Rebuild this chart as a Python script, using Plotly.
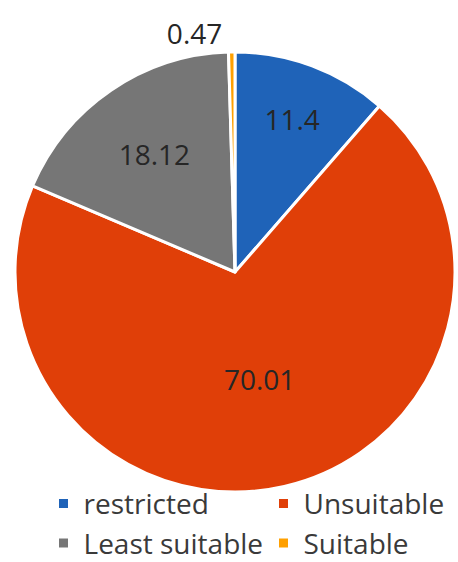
import plotly.graph_objects as go

labels = ["restricted", "Unsuitable", "Least suitable", "Suitable"]
values = [11.4, 70.01, 18.12, 0.47]
colors = ["#1F63B8", "#E03F08", "#767676", "#FFA000"]
text_positions = ["inside", "inside", "inside", "outside"]

W, H = 458, 562
cx, cy, r = 235, 272, 220

fig = go.Figure(
    go.Pie(
        labels=labels,
        values=values,
        sort=False,
        direction="clockwise",
        rotation=0,
        marker=dict(colors=colors, line=dict(color="white", width=3)),
        texttemplate="%{value}",
        textposition=text_positions,
        insidetextorientation="horizontal",
        textfont=dict(family="Open Sans", size=28, color="#262626"),
        outsidetextfont=dict(family="Open Sans", size=28, color="#262626"),
        domain=dict(
            x=[(cx - r) / W, (cx + r) / W],
            y=[(H - cy - r) / H, (H - cy + r) / H],
        ),
        hoverinfo="label+value",
    )
)

fig.update_layout(
    width=W,
    height=H,
    margin=dict(l=0, r=0, t=0, b=0, autoexpand=False),
    paper_bgcolor="white",
    plot_bgcolor="white",
    showlegend=True,
    legend=dict(
        orientation="h",
        x=0.095,
        xanchor="left",
        y=0.148,
        yanchor="top",
        entrywidth=175,
        entrywidthmode="pixels",
        font=dict(family="Open Sans", size=28, color="#3A3A3A"),
        bgcolor="rgba(0,0,0,0)",
        traceorder="normal",
    ),
)

fig.write_html("out.html")
